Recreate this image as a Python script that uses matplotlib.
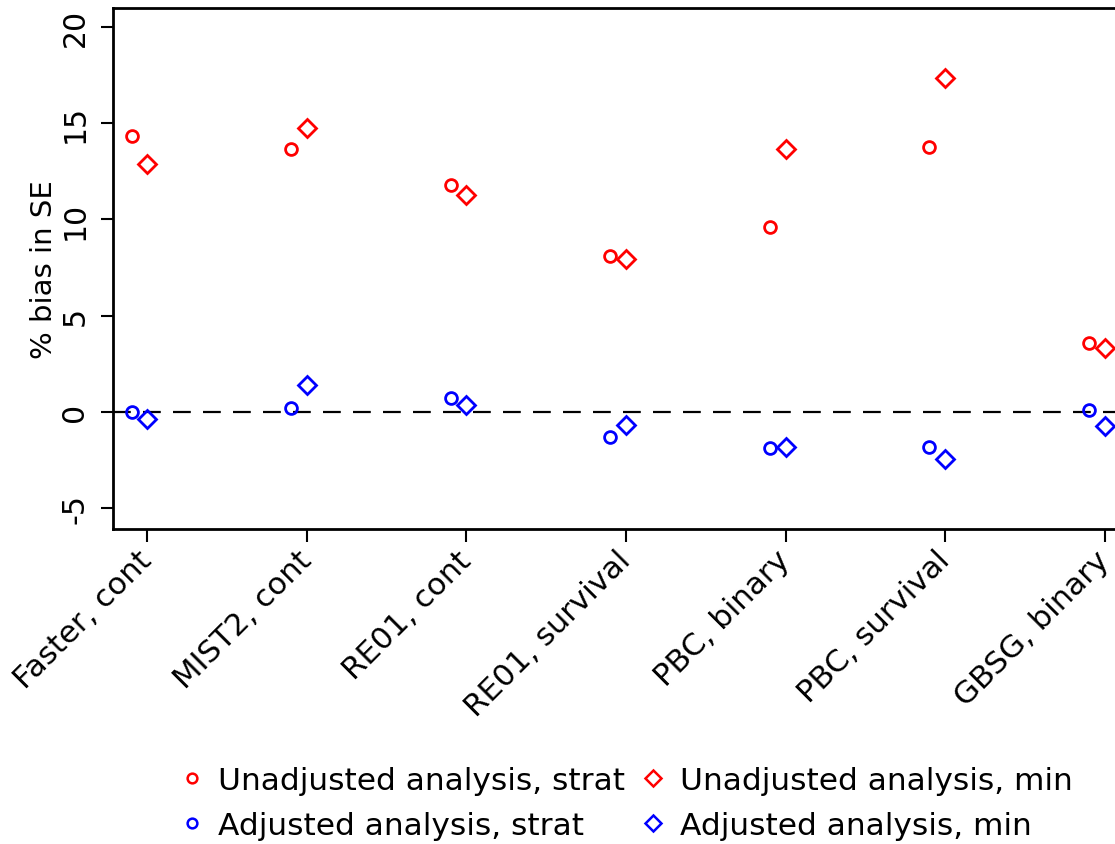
import numpy as np
import matplotlib
matplotlib.use('Agg')
import matplotlib.pyplot as plt
from matplotlib.lines import Line2D

plt.rcParams['font.family'] = ['DejaVu Sans']

# data
studies = ['Faster, cont', 'MIST2, cont', 'RE01, cont', 'RE01, survival',
           'PBC, binary', 'PBC, survival', 'GBSG, binary']
unadj_strat = [14.35, 13.67, 11.78, 8.09, 9.6, 13.76, 3.57]
unadj_min = [12.9, 14.76, 11.26, 7.93, 13.65, 17.34, 3.34]
adj_strat = [0.0, 0.19, 0.71, -1.32, -1.91, -1.82, 0.09]
adj_min = [-0.39, 1.37, 0.33, -0.71, -1.86, -2.47, -0.72]

x = np.arange(1, len(studies) + 1)
off = 0.098

fig = plt.figure(figsize=(11.15, 8.45), dpi=100)
ax = fig.add_axes([113 / 1115, 1 - 530 / 845, 1026 / 1115, 521 / 845])

ms_o, ms_d, mew = 8.5, 9.5, 2
ax.axhline(0, color='black', lw=1.6, ls=(0, (8, 5.5)), zorder=1)
ax.plot(x - off, unadj_strat, 'o', ms=ms_o, mfc='none', mec='red', mew=mew)
ax.plot(x, unadj_min, 'D', ms=ms_d, mfc='none', mec='red', mew=mew)
ax.plot(x - off, adj_strat, 'o', ms=ms_o, mfc='none', mec='blue', mew=mew)
ax.plot(x, adj_min, 'D', ms=ms_d, mfc='none', mec='blue', mew=mew)

ax.set_xlim(0.785, 7.215)
ax.set_ylim(-6.1, 21)
ax.set_yticks([-5, 0, 5, 10, 15, 20])
ax.set_yticklabels(['-5', '0', '5', '10', '15', '20'], rotation=90, va='center')
ax.set_xticks(x)
ax.set_xticklabels(studies, rotation=45, ha='right', va='center',
                   rotation_mode='anchor')
ax.tick_params(axis='both', length=9, width=1.5, direction='out')
ax.tick_params(axis='x', pad=10, labelsize=22.2)
ax.tick_params(axis='y', pad=8, labelsize=21.5)
for s in ax.spines.values():
    s.set_linewidth(2)
ax.set_ylabel('% bias in SE', fontsize=21, labelpad=2)

handles = [
    Line2D([], [], ls='none', marker='o', ms=7, mfc='none', mec='red', mew=1.8),
    Line2D([], [], ls='none', marker='o', ms=7, mfc='none', mec='blue', mew=1.8),
    Line2D([], [], ls='none', marker='D', ms=8, mfc='none', mec='red', mew=1.8),
    Line2D([], [], ls='none', marker='D', ms=8, mfc='none', mec='blue', mew=1.8),
]
labels = ['Unadjusted analysis, strat', 'Adjusted analysis, strat',
          'Unadjusted analysis, min', 'Adjusted analysis, min']
fig.legend(handles, labels, ncol=2, loc='center',
           bbox_to_anchor=(626 / 1115, 1 - 804 / 845), frameon=False,
           fontsize=22.5, handlelength=0.8, handletextpad=0.45,
           columnspacing=0.5, labelspacing=0.5)

fig.savefig('out.png', dpi=100)
